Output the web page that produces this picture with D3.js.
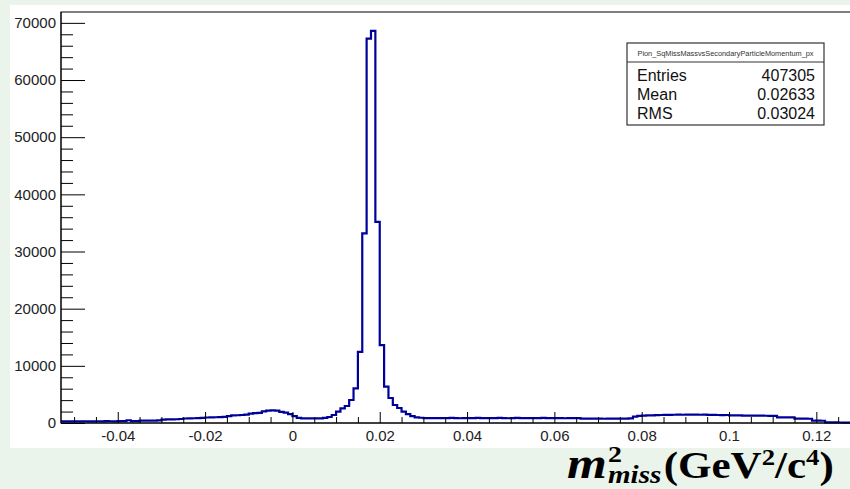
<!DOCTYPE html>
<html>
<head>
<meta charset="utf-8">
<script src="https://cdn.jsdelivr.net/npm/d3@7"></script>
<style>
  html, body { margin: 0; padding: 0; background: #eaf4ea; }
  svg { display: block; }
</style>
</head>
<body>
<svg id="chart" width="850" height="489"></svg>
<script>
// Histogram: squared missing mass, 0.001 GeV^2/c^4 bins starting at -0.053
const binLow = -0.053;
const binWidth = 0.001;
const counts = [
  280, 290, 300, 290, 300, 310, 300, 290, 310, 300,
  320, 310, 300, 320, 330, 480, 320, 330, 400, 410,
  420, 430, 450, 600, 620, 640, 660, 700, 790, 810,
  830, 850, 880, 960, 990, 1010, 1040, 1080, 1200, 1320,
  1360, 1400, 1450, 1650, 1720, 1780, 2050, 2150, 2200, 2150,
  1950, 1800, 1550, 1200, 900, 820, 810, 800, 810, 820,
  880, 1050, 1400, 1980, 2570, 2970, 4020, 6060, 12460, 33160,
  67250, 68590, 35190, 13640, 6350, 4370, 3150, 2620, 1980, 1570,
  1220, 1000, 920, 870, 860, 850, 870, 840, 860, 880,
  850, 830, 870, 860, 840, 880, 850, 870, 840, 860,
  890, 850, 830, 860, 880, 850, 840, 870, 860, 850,
  880, 840, 860, 870, 850, 830, 860, 870, 850, 780,
  760, 770, 750, 760, 740, 760, 750, 770, 760, 780,
  800, 1100, 1250, 1300, 1320, 1350, 1380, 1400, 1420, 1430,
  1440, 1450, 1440, 1450, 1460, 1450, 1440, 1450, 1430, 1420,
  1400, 1380, 1400, 1350, 1340, 1320, 1300, 1300, 1290, 1280,
  1280, 1270, 1260, 1250, 1000, 990, 980, 970, 760, 750,
  760, 740, 420, 400, 390, 120, 110, 100, 90, 80,
  70, 60, 50
];

const xMajorTicks = [-0.04, -0.02, 0, 0.02, 0.04, 0.06, 0.08, 0.1, 0.12];
const xTickLabels = ["-0.04", "-0.02", "0", "0.02", "0.04", "0.06", "0.08", "0.1", "0.12"];
const yMajorTicks = [0, 10000, 20000, 30000, 40000, 50000, 60000, 70000];

const histTitle = "Pion_SqMissMassvsSecondaryParticleMomentum_px";
const statNames = ["Entries", "Mean", "RMS"];
const statValues = ["407305", "0.02633", "0.03024"];

const svg = d3.select("#chart");

// white canvas pad
svg.append("rect").attr("x", 10).attr("y", 5).attr("width", 840).attr("height", 443)
  .attr("fill", "#ffffff");

const plot = { left: 61, top: 12, right: 860, bottom: 423 };

const x = d3.scaleLinear().domain([-0.053, 0.130]).range([plot.left, plot.right]);
const y = d3.scaleLinear().domain([0, 71900]).range([plot.bottom, plot.top]);

const sans = "'Liberation Sans', Arial, Helvetica, sans-serif";

svg.append("clipPath").attr("id", "plotclip")
  .append("rect").attr("x", plot.left).attr("y", plot.top - 2)
  .attr("width", plot.right - plot.left).attr("height", plot.bottom - plot.top + 4);

// frame
svg.append("rect")
  .attr("x", plot.left).attr("y", plot.top)
  .attr("width", plot.right - plot.left).attr("height", plot.bottom - plot.top)
  .attr("fill", "none").attr("stroke", "#000").attr("stroke-width", 1);

// histogram outline
const pts = counts.map((c, i) => [binLow + i * binWidth, c]);
pts.push([binLow + counts.length * binWidth, counts[counts.length - 1]]);
const line = d3.line().x(d => x(d[0])).y(d => y(d[1])).curve(d3.curveStepAfter);
svg.append("path")
  .attr("clip-path", "url(#plotclip)")
  .attr("d", line(pts))
  .attr("fill", "none")
  .attr("stroke", "#00009a")
  .attr("stroke-width", 2.2)
  .attr("stroke-linejoin", "miter");

// y axis: major and minor ticks pointing into the frame
const yMinor = d3.range(0, 71900, 2000).filter(v => v % 10000 !== 0);
const yAxisMinor = d3.axisLeft(y).tickValues(yMinor).tickSizeInner(-12).tickSizeOuter(0).tickFormat("");
const yAxisMajor = d3.axisLeft(y).tickValues(yMajorTicks).tickSizeInner(-24).tickSizeOuter(0)
  .tickPadding(5).tickFormat(d3.format("d"));

const gyMin = svg.append("g").attr("transform", `translate(${plot.left},0)`).call(yAxisMinor);
gyMin.select(".domain").remove();
const gy = svg.append("g").attr("transform", `translate(${plot.left},0)`).call(yAxisMajor);
gy.select(".domain").remove();

// x axis
const xMinor = d3.range(-0.05, 0.1301, 0.005).map(v => +v.toFixed(3))
  .filter(v => Math.abs(Math.round(v * 50) - v * 50) > 1e-6);
const xAxisMinor = d3.axisBottom(x).tickValues(xMinor).tickSizeInner(-6).tickSizeOuter(0).tickFormat("");
const xAxisMajor = d3.axisBottom(x).tickValues(xMajorTicks).tickSizeInner(-11).tickSizeOuter(0)
  .tickPadding(7).tickFormat((d, i) => xTickLabels[i]);

const gxMin = svg.append("g").attr("transform", `translate(0,${plot.bottom})`).call(xAxisMinor);
gxMin.select(".domain").remove();
const gx = svg.append("g").attr("transform", `translate(0,${plot.bottom})`).call(xAxisMajor);
gx.select(".domain").remove();

svg.selectAll(".tick line").attr("stroke", "#000").attr("stroke-width", 1);
svg.selectAll(".tick text")
  .attr("font-family", sans).attr("font-size", 15).attr("fill", "#222");

// axis lines drawn over the histogram
svg.append("line").attr("x1", plot.left).attr("x2", plot.right)
  .attr("y1", plot.bottom).attr("y2", plot.bottom).attr("stroke", "#000");
svg.append("line").attr("x1", plot.left).attr("x2", plot.left)
  .attr("y1", plot.top).attr("y2", plot.bottom).attr("stroke", "#000");

// statistics box
const box = { x: 627, y: 43, w: 197, h: 82, sep: 62 };
const gs = svg.append("g");
gs.append("rect").attr("x", box.x).attr("y", box.y).attr("width", box.w).attr("height", box.h)
  .attr("fill", "#fff").attr("stroke", "#333").attr("stroke-width", 1.2);
gs.append("line").attr("x1", box.x).attr("x2", box.x + box.w)
  .attr("y1", box.sep).attr("y2", box.sep).attr("stroke", "#333").attr("stroke-width", 1.2);
gs.append("text").attr("x", box.x + box.w / 2).attr("y", 55.5)
  .attr("text-anchor", "middle").attr("font-family", sans).attr("font-size", 7.5)
  .attr("fill", "#333").attr("textLength", 176).attr("lengthAdjust", "spacingAndGlyphs")
  .text(histTitle);
const rowY = [81, 100, 119];
statNames.forEach((n, i) => {
  gs.append("text").attr("x", box.x + 10).attr("y", rowY[i])
    .attr("font-family", sans).attr("font-size", 16).attr("fill", "#111").text(n);
  gs.append("text").attr("x", box.x + box.w - 9).attr("y", rowY[i]).attr("text-anchor", "end")
    .attr("font-family", sans).attr("font-size", 16).attr("fill", "#111").text(statValues[i]);
});

// axis title: m^2_miss (GeV^2/c^4), one text element with stacked scripts
const serif = "'Liberation Serif', 'Times New Roman', serif";
const gt = svg.append("g");
const t = gt.append("text").attr("x", 0).attr("y", 0)
  .attr("font-family", serif).attr("font-weight", "bold").attr("fill", "#000");
t.append("tspan").attr("font-style", "italic").attr("font-size", 44).attr("dx", 0).text("m");
t.append("tspan").attr("font-size", 24).attr("dx", 1).attr("dy", -16).text("2");
t.append("tspan").attr("font-style", "italic").attr("font-size", 25).attr("dx", -12).attr("dy", 21).text("miss");
t.append("tspan").attr("font-size", 37).attr("dx", 2).attr("dy", -5).text("(GeV");
t.append("tspan").attr("font-size", 23).attr("dy", -13).text("2");
t.append("tspan").attr("font-size", 37).attr("dy", 13).text("/c");
t.append("tspan").attr("font-size", 23).attr("dy", -13).text("4");
t.append("tspan").attr("font-size", 37).attr("dy", 13).text(")");
const bb = gt.node().getBBox();
const sx = 267 / bb.width;
gt.attr("transform", `translate(${567 - bb.x * sx},478) scale(${sx},1)`);
</script>
</body>
</html>
